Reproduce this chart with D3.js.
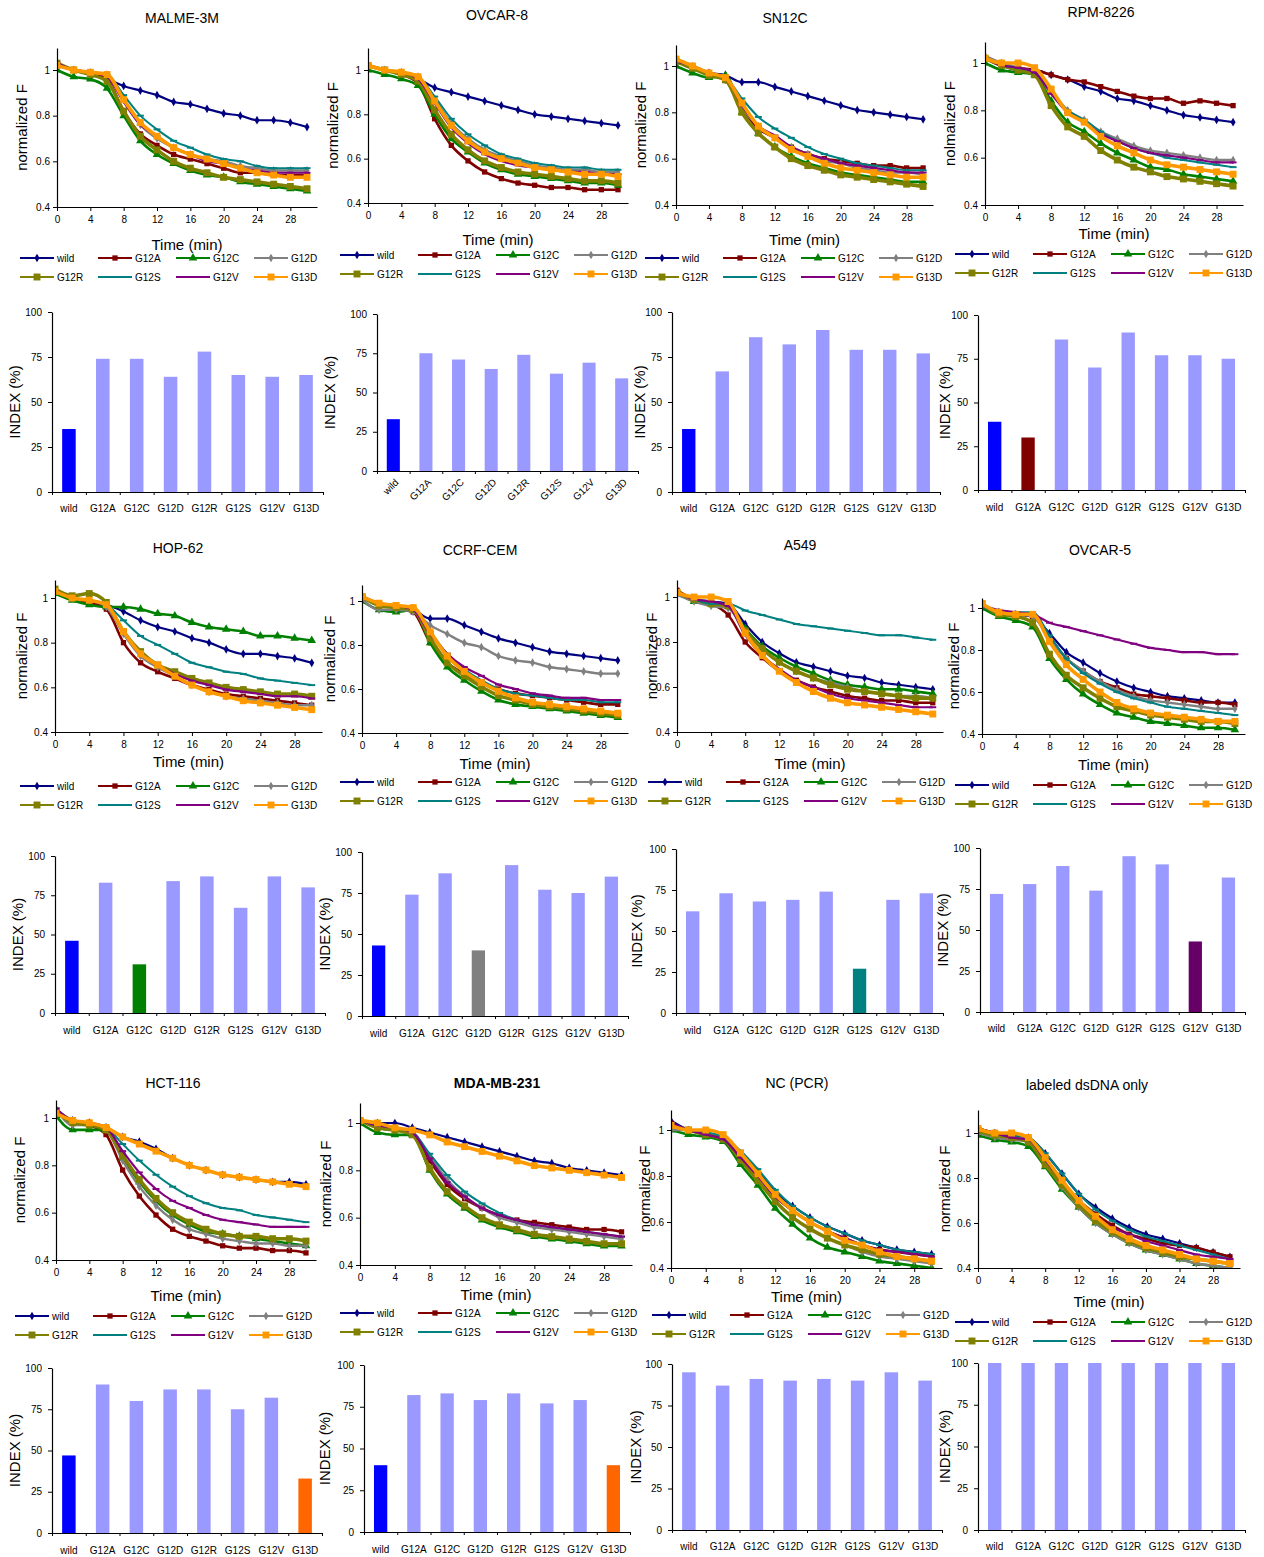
<!DOCTYPE html>
<meta charset="utf-8">
<script src="https://d3js.org/d3.v7.min.js"></script>
<style>
  body { margin: 0; background: #fff; }
  text { font-family: "Liberation Sans", Arial, sans-serif; fill: #000; }
</style>
<svg id="fig" width="1264" height="1557"></svg>
<script>

// categories and axis ticks
var mutants = ["wild", "G12A", "G12C", "G12D", "G12R", "G12S", "G12V", "G13D"];
var times = [0, 2, 4, 6, 8, 10, 12, 14, 16, 18, 20, 22, 24, 26, 28, 30];
var timeTicks = [0, 4, 8, 12, 16, 20, 24, 28];
var fTicks = [0.4, 0.6, 0.8, 1];
var indexTicks = [0, 25, 50, 75, 100];
var cells = ["MALME-3M", "OVCAR-8", "SN12C", "RPM-8226", "HOP-62", "CCRF-CEM",
             "A549", "OVCAR-5", "HCT-116", "MDA-MB-231", "NC (PCR)", "labeled dsDNA only"];
var yTitles = ["normalized F", "normalized F", "normalized F", "nolmalized F", "normalized F", "normalized F",
               "normalized F", "normalized F", "normalized F", "normalized F", "normalized F", "normalized F"];

// normalized F, one row per mutant (wild, G12A, G12C, G12D, G12R, G12S, G12V, G13D)
var fMALME = [
  [1.03,1.00,0.98,0.96,0.93,0.91,0.89,0.86,0.85,0.83,0.81,0.80,0.78,0.78,0.77,0.75],
  [1.02,1.00,0.99,0.96,0.82,0.72,0.67,0.63,0.61,0.59,0.57,0.55,0.55,0.54,0.54,0.54],
  [1.00,0.97,0.96,0.92,0.80,0.69,0.63,0.59,0.56,0.54,0.53,0.51,0.50,0.49,0.48,0.47],
  [1.03,1.00,0.99,0.98,0.87,0.76,0.70,0.66,0.63,0.61,0.60,0.58,0.57,0.56,0.56,0.56],
  [1.03,1.00,0.98,0.95,0.82,0.71,0.65,0.60,0.57,0.55,0.53,0.52,0.51,0.50,0.49,0.48],
  [1.03,1.00,0.99,0.98,0.89,0.80,0.74,0.69,0.66,0.63,0.61,0.60,0.58,0.57,0.57,0.57],
  [1.03,1.00,0.99,0.97,0.86,0.76,0.71,0.66,0.63,0.60,0.59,0.57,0.56,0.55,0.55,0.55],
  [1.02,1.00,0.99,0.98,0.87,0.77,0.71,0.66,0.63,0.61,0.59,0.57,0.55,0.54,0.53,0.53]
];
var fOVCAR8 = [
  [1.02,1.00,0.98,0.96,0.92,0.90,0.88,0.86,0.84,0.82,0.80,0.79,0.78,0.77,0.76,0.75],
  [1.02,1.00,0.98,0.94,0.78,0.66,0.59,0.54,0.51,0.49,0.48,0.47,0.47,0.46,0.46,0.46],
  [1.00,0.98,0.96,0.93,0.80,0.69,0.63,0.58,0.55,0.53,0.52,0.51,0.50,0.49,0.49,0.48],
  [1.02,1.00,0.99,0.97,0.87,0.76,0.69,0.64,0.61,0.59,0.57,0.56,0.55,0.55,0.54,0.54],
  [1.02,1.00,0.98,0.95,0.82,0.71,0.64,0.59,0.56,0.54,0.53,0.52,0.51,0.50,0.50,0.49],
  [1.02,1.00,0.99,0.97,0.88,0.78,0.71,0.66,0.62,0.60,0.58,0.57,0.56,0.56,0.55,0.55],
  [1.02,1.00,0.99,0.96,0.85,0.74,0.67,0.62,0.59,0.57,0.56,0.55,0.54,0.54,0.53,0.53],
  [1.02,1.00,0.99,0.97,0.86,0.75,0.68,0.63,0.60,0.58,0.56,0.55,0.54,0.53,0.53,0.52]
];
var fSN12C = [
  [1.02,0.99,0.97,0.96,0.93,0.93,0.91,0.89,0.87,0.85,0.83,0.81,0.80,0.79,0.78,0.77],
  [1.03,1.00,0.97,0.94,0.82,0.73,0.69,0.65,0.62,0.60,0.59,0.58,0.57,0.57,0.56,0.56],
  [1.00,0.97,0.95,0.96,0.80,0.71,0.65,0.61,0.58,0.56,0.54,0.53,0.52,0.51,0.50,0.50],
  [1.03,1.00,0.96,0.94,0.82,0.74,0.69,0.65,0.62,0.59,0.58,0.56,0.55,0.54,0.54,0.53],
  [1.02,0.99,0.96,0.94,0.80,0.71,0.65,0.60,0.57,0.55,0.53,0.52,0.51,0.50,0.49,0.48],
  [1.02,1.00,0.97,0.95,0.86,0.78,0.73,0.69,0.65,0.62,0.60,0.58,0.57,0.56,0.55,0.55],
  [1.02,1.00,0.97,0.95,0.83,0.74,0.70,0.65,0.62,0.60,0.58,0.57,0.56,0.55,0.54,0.54],
  [1.03,1.00,0.97,0.95,0.84,0.74,0.69,0.64,0.61,0.58,0.56,0.55,0.54,0.53,0.52,0.52]
];
var fRPMI = [
  [1.02,0.99,0.97,0.97,0.95,0.93,0.90,0.88,0.85,0.84,0.82,0.80,0.78,0.77,0.76,0.75],
  [1.02,0.99,0.98,0.97,0.95,0.93,0.92,0.90,0.88,0.86,0.85,0.85,0.83,0.84,0.83,0.82],
  [1.00,0.97,0.96,0.95,0.84,0.75,0.71,0.66,0.62,0.59,0.56,0.55,0.53,0.52,0.51,0.50],
  [1.03,1.00,0.98,0.96,0.88,0.80,0.76,0.71,0.68,0.65,0.63,0.62,0.61,0.60,0.59,0.59],
  [1.02,0.99,0.97,0.95,0.82,0.73,0.69,0.63,0.59,0.56,0.54,0.52,0.51,0.50,0.49,0.48],
  [1.02,0.99,0.98,0.96,0.88,0.80,0.76,0.71,0.67,0.64,0.62,0.60,0.59,0.58,0.57,0.56],
  [1.02,0.99,0.98,0.96,0.87,0.79,0.75,0.70,0.67,0.64,0.62,0.61,0.60,0.59,0.58,0.58],
  [1.02,1.00,1.00,0.98,0.89,0.79,0.75,0.69,0.65,0.62,0.59,0.57,0.56,0.55,0.54,0.53]
];
var fHOP62 = [
  [1.03,1.00,0.98,0.97,0.94,0.90,0.87,0.85,0.82,0.80,0.77,0.75,0.75,0.74,0.73,0.71],
  [1.03,1.00,0.98,0.95,0.80,0.71,0.67,0.64,0.61,0.59,0.57,0.56,0.55,0.54,0.53,0.52],
  [1.02,0.99,0.97,0.96,0.96,0.95,0.93,0.92,0.89,0.87,0.86,0.85,0.83,0.83,0.82,0.81],
  [1.03,1.00,0.99,0.96,0.84,0.74,0.69,0.65,0.61,0.58,0.56,0.55,0.54,0.53,0.52,0.52],
  [1.04,1.01,1.02,0.98,0.85,0.76,0.70,0.67,0.64,0.62,0.60,0.59,0.58,0.57,0.57,0.56],
  [1.03,1.00,0.99,0.97,0.90,0.83,0.79,0.75,0.71,0.69,0.67,0.66,0.64,0.63,0.62,0.61],
  [1.03,1.00,0.99,0.97,0.85,0.75,0.70,0.66,0.63,0.61,0.59,0.58,0.57,0.56,0.56,0.55],
  [1.03,1.00,0.99,0.97,0.85,0.75,0.70,0.65,0.61,0.58,0.56,0.54,0.53,0.52,0.51,0.50]
];
var fCCRF = [
  [1.02,0.98,0.97,0.96,0.92,0.92,0.89,0.86,0.83,0.81,0.79,0.77,0.76,0.75,0.74,0.73],
  [1.02,0.99,0.97,0.95,0.81,0.72,0.67,0.63,0.60,0.58,0.57,0.56,0.55,0.54,0.53,0.53],
  [1.00,0.96,0.95,0.96,0.81,0.70,0.64,0.59,0.55,0.53,0.52,0.51,0.50,0.49,0.48,0.47],
  [1.01,0.96,0.96,0.95,0.89,0.85,0.81,0.79,0.75,0.73,0.72,0.70,0.69,0.68,0.67,0.67],
  [1.02,0.98,0.97,0.96,0.83,0.72,0.66,0.61,0.57,0.55,0.53,0.52,0.51,0.50,0.49,0.48],
  [1.02,0.99,0.98,0.96,0.86,0.76,0.69,0.64,0.60,0.58,0.57,0.56,0.55,0.55,0.54,0.54],
  [1.02,0.99,0.98,0.96,0.85,0.76,0.70,0.66,0.62,0.60,0.58,0.57,0.56,0.56,0.55,0.55],
  [1.02,0.99,0.98,0.97,0.86,0.75,0.68,0.63,0.59,0.56,0.54,0.53,0.52,0.51,0.50,0.49]
];
var fA549 = [
  [1.02,0.99,0.98,0.97,0.88,0.80,0.75,0.71,0.69,0.67,0.65,0.64,0.62,0.61,0.60,0.59],
  [1.03,0.99,0.97,0.92,0.80,0.73,0.67,0.63,0.60,0.58,0.56,0.55,0.54,0.54,0.53,0.53],
  [1.02,0.98,0.97,0.96,0.86,0.78,0.73,0.69,0.66,0.63,0.61,0.60,0.59,0.59,0.58,0.57],
  [1.01,0.98,0.96,0.95,0.85,0.77,0.71,0.67,0.64,0.62,0.60,0.58,0.57,0.56,0.56,0.55],
  [1.02,0.99,0.97,0.96,0.85,0.77,0.71,0.67,0.64,0.61,0.59,0.58,0.57,0.56,0.55,0.55],
  [1.02,0.99,0.97,0.97,0.94,0.92,0.90,0.88,0.87,0.86,0.85,0.84,0.83,0.83,0.82,0.81],
  [1.02,0.99,0.98,0.96,0.83,0.74,0.68,0.63,0.60,0.57,0.55,0.54,0.53,0.52,0.51,0.51],
  [1.02,1.00,1.00,0.98,0.84,0.74,0.67,0.62,0.58,0.55,0.53,0.52,0.51,0.50,0.49,0.48]
];
var fOVCAR5 = [
  [1.01,0.98,0.97,0.96,0.88,0.79,0.74,0.69,0.65,0.62,0.60,0.58,0.57,0.56,0.55,0.55],
  [1.02,0.98,0.97,0.96,0.86,0.76,0.70,0.65,0.62,0.59,0.58,0.57,0.56,0.55,0.55,0.54],
  [1.00,0.96,0.94,0.91,0.76,0.66,0.59,0.54,0.50,0.48,0.46,0.45,0.44,0.43,0.43,0.42],
  [1.01,0.98,0.97,0.96,0.85,0.76,0.70,0.65,0.61,0.58,0.56,0.55,0.54,0.53,0.52,0.52],
  [1.02,0.97,0.96,0.93,0.78,0.68,0.62,0.57,0.53,0.51,0.49,0.48,0.47,0.46,0.46,0.45],
  [1.01,0.98,0.98,0.98,0.87,0.76,0.69,0.64,0.60,0.57,0.55,0.53,0.52,0.51,0.50,0.49],
  [1.01,0.99,0.98,0.97,0.93,0.91,0.89,0.87,0.85,0.83,0.81,0.80,0.79,0.79,0.78,0.78],
  [1.02,0.98,0.97,0.97,0.84,0.73,0.66,0.60,0.55,0.52,0.50,0.49,0.48,0.47,0.46,0.46]
];
var fHCT116 = [
  [1.03,0.99,0.98,0.96,0.92,0.90,0.87,0.83,0.80,0.78,0.76,0.75,0.74,0.73,0.73,0.72],
  [1.03,0.99,0.97,0.93,0.78,0.67,0.59,0.53,0.50,0.48,0.46,0.45,0.45,0.44,0.44,0.43],
  [1.01,0.95,0.95,0.95,0.83,0.73,0.65,0.59,0.55,0.52,0.51,0.50,0.49,0.48,0.47,0.46],
  [1.04,0.97,0.97,0.95,0.82,0.71,0.63,0.57,0.53,0.51,0.49,0.48,0.47,0.47,0.46,0.46],
  [1.03,0.98,0.97,0.95,0.84,0.74,0.66,0.60,0.56,0.53,0.51,0.50,0.50,0.49,0.49,0.48],
  [1.04,0.99,0.98,0.96,0.89,0.82,0.76,0.71,0.67,0.64,0.62,0.61,0.59,0.58,0.57,0.56],
  [1.04,0.99,0.98,0.96,0.86,0.77,0.70,0.65,0.62,0.59,0.57,0.56,0.55,0.54,0.54,0.54],
  [1.02,0.99,0.98,0.96,0.92,0.89,0.86,0.83,0.80,0.78,0.76,0.75,0.74,0.73,0.72,0.71]
];
var fMDA = [
  [1.01,1.00,1.00,0.98,0.96,0.94,0.92,0.90,0.88,0.86,0.84,0.83,0.81,0.80,0.79,0.78],
  [1.01,0.99,0.97,0.96,0.84,0.74,0.68,0.64,0.61,0.59,0.58,0.57,0.56,0.55,0.55,0.54],
  [1.00,0.96,0.95,0.95,0.80,0.70,0.64,0.59,0.56,0.54,0.52,0.51,0.50,0.49,0.48,0.48],
  [1.01,0.98,0.97,0.96,0.86,0.76,0.69,0.64,0.60,0.58,0.56,0.55,0.54,0.53,0.52,0.51],
  [1.01,0.98,0.97,0.95,0.81,0.71,0.65,0.60,0.57,0.55,0.53,0.52,0.51,0.50,0.49,0.49],
  [1.01,0.99,0.98,0.96,0.87,0.78,0.71,0.66,0.62,0.59,0.57,0.56,0.55,0.54,0.53,0.52],
  [1.01,0.99,0.98,0.96,0.85,0.75,0.69,0.64,0.61,0.59,0.57,0.56,0.55,0.54,0.53,0.52],
  [1.01,1.00,0.98,0.97,0.95,0.92,0.90,0.88,0.86,0.84,0.82,0.81,0.80,0.79,0.78,0.77]
];
var fNC = [
  [1.04,1.00,0.98,0.96,0.90,0.82,0.73,0.67,0.62,0.58,0.55,0.52,0.50,0.48,0.47,0.46],
  [1.03,1.00,0.98,0.96,0.88,0.80,0.71,0.65,0.60,0.56,0.53,0.50,0.48,0.47,0.46,0.45],
  [1.00,0.98,0.97,0.95,0.85,0.76,0.66,0.59,0.53,0.49,0.47,0.45,0.43,0.42,0.41,0.40],
  [1.00,1.00,0.98,0.96,0.87,0.78,0.69,0.62,0.57,0.53,0.50,0.47,0.45,0.44,0.43,0.42],
  [1.02,1.00,0.98,0.96,0.87,0.78,0.69,0.62,0.57,0.53,0.50,0.48,0.46,0.45,0.44,0.43],
  [1.03,1.00,0.99,0.97,0.91,0.83,0.74,0.67,0.62,0.58,0.55,0.52,0.50,0.48,0.47,0.46],
  [1.03,1.00,0.98,0.96,0.88,0.80,0.71,0.65,0.60,0.56,0.53,0.50,0.48,0.47,0.46,0.45],
  [1.02,1.00,1.00,0.98,0.90,0.81,0.72,0.65,0.60,0.56,0.52,0.50,0.47,0.45,0.44,0.43]
];
var fDsDNA = [
  [1.02,1.00,0.99,0.98,0.91,0.82,0.73,0.67,0.62,0.58,0.55,0.53,0.51,0.49,0.47,0.45],
  [1.02,1.00,0.98,0.96,0.87,0.78,0.70,0.64,0.59,0.55,0.53,0.51,0.50,0.49,0.47,0.45],
  [0.99,0.97,0.96,0.94,0.85,0.75,0.67,0.60,0.55,0.51,0.48,0.46,0.44,0.42,0.41,0.40],
  [1.00,0.98,0.97,0.96,0.86,0.76,0.67,0.60,0.55,0.51,0.48,0.46,0.44,0.42,0.41,0.40],
  [1.01,0.99,0.98,0.96,0.86,0.77,0.68,0.61,0.56,0.52,0.49,0.47,0.45,0.44,0.43,0.42],
  [1.02,1.00,0.99,0.98,0.91,0.82,0.73,0.66,0.61,0.57,0.54,0.52,0.50,0.48,0.46,0.44],
  [1.02,1.00,0.98,0.97,0.88,0.79,0.70,0.63,0.58,0.55,0.52,0.50,0.48,0.46,0.45,0.44],
  [1.02,1.00,1.00,0.98,0.89,0.79,0.70,0.63,0.57,0.53,0.50,0.48,0.46,0.44,0.43,0.42]
];
var fSeries = [fMALME, fOVCAR8, fSN12C, fRPMI, fHOP62, fCCRF, fA549, fOVCAR5, fHCT116, fMDA, fNC, fDsDNA];

// INDEX (%) per cell line, same mutant order
var idxMALME  = [35, 74, 74, 64, 78, 65, 64, 65];
var idxOVCAR8 = [33, 75, 71, 65, 74, 62, 69, 59];
var idxSN12C  = [35, 67, 86, 82, 90, 79, 79, 77];
var idxRPMI   = [39, 30, 86, 70, 90, 77, 77, 75];
var idxHOP62  = [46, 83, 31, 84, 87, 67, 87, 80];
var idxCCRF   = [43, 74, 87, 40, 92, 77, 75, 85];
var idxA549   = [62, 73, 68, 69, 74, 27, 69, 73];
var idxOVCAR5 = [72, 78, 89, 74, 95, 90, 43, 82];
var idxHCT116 = [47, 90, 80, 87, 87, 75, 82, 33];
var idxMDA    = [40, 82, 83, 79, 83, 77, 79, 40];
var idxNC     = [95, 87, 91, 90, 91, 90, 95, 90];
var idxDsDNA  = [100, 100, 100, 100, 100, 100, 100, 100];
var idxSeries = [idxMALME, idxOVCAR8, idxSN12C, idxRPMI, idxHOP62, idxCCRF,
                 idxA549, idxOVCAR5, idxHCT116, idxMDA, idxNC, idxDsDNA];
// bars drawn in the mutant's own colour
var highlighted = [["wild"], ["wild"], ["wild"], ["wild", "G12A"], ["wild", "G12C"], ["wild", "G12D"],
                   ["G12S"], ["G12V"], ["wild", "G13D"], ["wild", "G13D"], [], []];

// colours and markers
var lineColor = {wild: "#000080", G12A: "#800000", G12C: "#008000", G12D: "#808080",
                 G12R: "#808000", G12S: "#008080", G12V: "#800080", G13D: "#FF9900"};
var barColor = {wild: "#0000FF", G12A: "#800000", G12C: "#008000", G12D: "#808080",
                G12R: "#808000", G12S: "#008080", G12V: "#660066", G13D: "#FF6600"};
var lightBar = "#9999FF";
var markerType = {wild: d3.symbolDiamond, G12A: d3.symbolSquare, G12C: d3.symbolTriangle, G12D: d3.symbolDiamond,
                  G12R: d3.symbolSquare, G12S: null, G12V: null, G13D: d3.symbolSquare};
var markerSize = {wild: 22, G12A: 28, G12C: 32, G12D: 22, G12R: 48, G12S: 0, G12V: 0, G13D: 48};
var lineWidth = {wild: 2.2, G12A: 2.6, G12C: 2.6, G12D: 2.4, G12R: 3.6, G12S: 2, G12V: 2.2, G13D: 3.6};

// panel boxes (pixels)
var lineBoxes = [
  {l:57,  t:48,   y1:70,   r:317,  b:207,  tx:182,  ty:18,   time:245,  lx:20,  ly:258,  yl:22},
  {l:368, t:48,   y1:70,   r:628,  b:203,  tx:497,  ty:15,   time:240,  lx:340, ly:255,  yl:333},
  {l:676, t:45,   y1:66,   r:933,  b:205,  tx:785,  ty:18,   time:240,  lx:645, ly:258,  yl:641},
  {l:985, t:42,   y1:63,   r:1243, b:205,  tx:1101, ty:12,   time:234,  lx:955, ly:254,  yl:950},
  {l:55,  t:580,  y1:598,  r:322,  b:732,  tx:178,  ty:548,  time:762,  lx:20,  ly:786,  yl:22},
  {l:362, t:585,  y1:601,  r:628,  b:733,  tx:480,  ty:550,  time:764,  lx:340, ly:782,  yl:330},
  {l:677, t:580,  y1:597,  r:943,  b:732,  tx:800,  ty:545,  time:764,  lx:648, ly:782,  yl:652},
  {l:982, t:598,  y1:608,  r:1245, b:734,  tx:1100, ty:550,  time:765,  lx:955, ly:785,  yl:954},
  {l:56,  t:1100, y1:1118, r:316,  b:1260, tx:173,  ty:1083, time:1296, lx:15,  ly:1316, yl:20},
  {l:360, t:1103, y1:1123, r:632,  b:1265, tx:497,  ty:1083, time:1295, lx:340, ly:1313, yl:326},
  {l:671, t:1110, y1:1130, r:942,  b:1268, tx:797,  ty:1083, time:1297, lx:652, ly:1315, yl:645},
  {l:978, t:1110, y1:1133, r:1240, b:1268, tx:1087, ty:1085, time:1302, lx:955, ly:1322, yl:945}
];
var barBoxes = [
  {l:52,  t:312,  r:323,  b:492,  lab:508,  yl:15},
  {l:377, t:314,  r:638,  b:471,  lab:485,  yl:330, rot:true},
  {l:672, t:312,  r:940,  b:492,  lab:508,  yl:640},
  {l:978, t:315,  r:1245, b:490,  lab:507,  yl:945},
  {l:55,  t:856,  r:325,  b:1013, lab:1030, yl:18},
  {l:362, t:852,  r:628,  b:1016, lab:1033, yl:325},
  {l:676, t:849,  r:943,  b:1013, lab:1030, yl:637},
  {l:980, t:848,  r:1245, b:1012, lab:1028, yl:943},
  {l:52,  t:1368, r:322,  b:1533, lab:1550, yl:15},
  {l:364, t:1365, r:630,  b:1532, lab:1549, yl:325},
  {l:672, t:1364, r:942,  b:1530, lab:1546, yl:636},
  {l:978, t:1363, r:1245, b:1530, lab:1546, yl:945}
];

var svg = d3.select("#fig");
svg.append("rect").attr("width", 1264).attr("height", 1557).attr("fill", "#fff");

function drawMarker(sel, name) {
  if (markerType[name]) {
    sel.append("path")
      .attr("d", d3.symbol().type(markerType[name]).size(markerSize[name]))
      .attr("fill", lineColor[name]);
  } else {
    sel.append("path")
      .attr("d", "M-3.5,0H3.5")
      .attr("stroke", lineColor[name])
      .attr("stroke-width", 2);
  }
}

function styleAxis(g) {
  g.selectAll(".domain").attr("stroke", "#000").attr("stroke-width", 1.2);
  g.selectAll(".tick line").attr("stroke", "#000");
  g.selectAll(".tick text").attr("font-size", 10).attr("font-family", "Liberation Sans, Arial, sans-serif");
}

function linePanel(i) {
  var box = lineBoxes[i];
  var yTop = 0.4 + 0.6 * (box.b - box.t) / (box.b - box.y1);
  var x = d3.scaleLinear().domain([0, 31.2]).range([box.l, box.r]);
  var y = d3.scaleLinear().domain([0.4, yTop]).range([box.b, box.t]);
  var g = svg.append("g");

  g.append("clipPath").attr("id", "clip" + i)
    .append("rect").attr("x", box.l).attr("y", box.t - 4)
    .attr("width", box.r - box.l + 4).attr("height", box.b - box.t + 4);

  var plot = g.append("g").attr("clip-path", "url(#clip" + i + ")");
  var line = d3.line()
    .x(function(d, j) { return x(times[j]); })
    .y(function(d) { return y(d); })
    .curve(d3.curveMonotoneX);

  fSeries[i].forEach(function(vals, k) {
    var name = mutants[k];
    plot.append("path")
      .attr("d", line(vals))
      .attr("fill", "none")
      .attr("stroke", lineColor[name])
      .attr("stroke-width", lineWidth[name]);
    vals.forEach(function(v, j) {
      drawMarker(plot.append("g").attr("transform", "translate(" + x(times[j]) + "," + y(v) + ")"), name);
    });
  });

  var ax = g.append("g").attr("transform", "translate(0," + box.b + ")")
    .call(d3.axisBottom(x).tickValues(timeTicks).tickSize(4).tickSizeOuter(0).tickPadding(5));
  styleAxis(ax);
  var ay = g.append("g").attr("transform", "translate(" + box.l + ",0)")
    .call(d3.axisLeft(y).tickValues(fTicks).tickSize(4).tickSizeOuter(0).tickPadding(3)
      .tickFormat(function(d) { return d === 1 ? "1" : d3.format(".1f")(d); }));
  styleAxis(ay);

  g.append("text")
    .attr("x", box.tx).attr("y", box.ty + 5)
    .attr("text-anchor", "middle").attr("font-size", 14)
    .attr("font-weight", i === 9 ? "bold" : "normal")
    .text(cells[i]);
  g.append("text")
    .attr("x", (box.l + box.r) / 2).attr("y", box.time + 5)
    .attr("text-anchor", "middle").attr("font-size", 15)
    .text("Time (min)");
  g.append("text")
    .attr("transform", "translate(" + box.yl + "," + ((box.t + box.b) / 2) + ") rotate(-90)")
    .attr("text-anchor", "middle").attr("dy", "0.35em").attr("font-size", 15)
    .text(yTitles[i]);

  // legend, two rows of four
  mutants.forEach(function(name, k) {
    var lx = box.lx + (k % 4) * 78;
    var ly = box.ly + Math.floor(k / 4) * 19;
    var item = g.append("g").attr("transform", "translate(" + lx + "," + ly + ")");
    item.append("line").attr("x1", 0).attr("x2", 34).attr("y1", 0).attr("y2", 0)
      .attr("stroke", lineColor[name]).attr("stroke-width", 2);
    drawMarker(item.append("g").attr("transform", "translate(17,0)"), name);
    item.append("text").attr("x", 37).attr("y", 4).attr("font-size", 10).text(name);
  });
}

function barPanel(i) {
  var box = barBoxes[i];
  var x = d3.scaleBand().domain(mutants).range([box.l, box.r]).paddingInner(0.6).paddingOuter(0.3);
  var y = d3.scaleLinear().domain([0, 100]).range([box.b, box.t]);
  var slots = d3.scaleLinear().domain([0, mutants.length]).range([box.l, box.r]);
  var g = svg.append("g");

  g.selectAll("rect.bar")
    .data(idxSeries[i])
    .enter().append("rect")
    .attr("class", "bar")
    .attr("x", function(d, k) { return x(mutants[k]); })
    .attr("width", x.bandwidth())
    .attr("y", function(d) { return y(d); })
    .attr("height", function(d) { return box.b - y(d); })
    .attr("fill", function(d, k) {
      return highlighted[i].indexOf(mutants[k]) >= 0 ? barColor[mutants[k]] : lightBar;
    });

  var ay = g.append("g").attr("transform", "translate(" + box.l + ",0)")
    .call(d3.axisLeft(y).tickValues(indexTicks).tickSize(4).tickSizeOuter(0).tickPadding(6));
  styleAxis(ay);
  var ax = g.append("g").attr("transform", "translate(0," + box.b + ")")
    .call(d3.axisBottom(slots).ticks(mutants.length).tickFormat("").tickSize(3).tickSizeOuter(0));
  styleAxis(ax);

  var labs = g.selectAll("text.cat").data(mutants).enter().append("text")
    .attr("class", "cat").attr("font-size", 10).text(function(d) { return d; });
  if (box.rot) {
    labs.attr("text-anchor", "end")
      .attr("transform", function(d) {
        return "translate(" + (x(d) + x.bandwidth() / 2 + 6) + "," + (box.b + 12) + ") rotate(-45)";
      });
  } else {
    labs.attr("text-anchor", "middle")
      .attr("x", function(d) { return x(d) + x.bandwidth() / 2; })
      .attr("y", box.lab + 4);
  }

  g.append("text")
    .attr("transform", "translate(" + box.yl + "," + ((box.t + box.b) / 2) + ") rotate(-90)")
    .attr("text-anchor", "middle").attr("dy", "0.35em").attr("font-size", 15)
    .text("INDEX (%)");
}

cells.forEach(function(c, i) {
  linePanel(i);
  barPanel(i);
});

</script>
